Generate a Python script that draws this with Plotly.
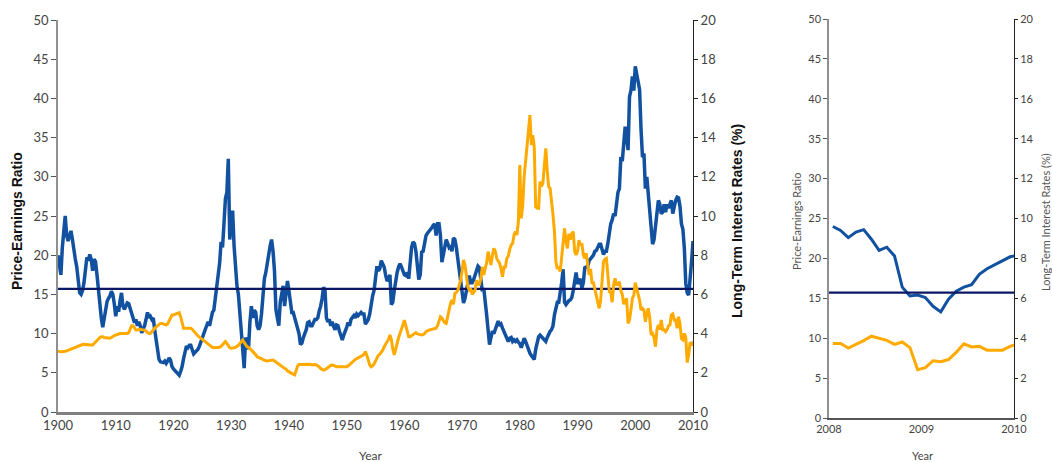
import plotly.graph_objects as go

# ---------------- DATA ----------------
# Quarterly Price-Earnings ratio, 1900.00 .. 2009.75 (Jan, Apr, Jul, Oct), then Jan 2010
pe_start_year = 1900
pe_values = [
    20.0, 18.8, 17.5, 21.0,   # 1900
    23.5, 25.0, 22.5, 21.8,   # 1901
    22.5, 23.1, 22.0, 20.4,   # 1902
    19.5, 18.5, 16.5, 15.2,   # 1903
    15.0, 15.5, 16.5, 18.0,   # 1904
    19.7, 19.3, 20.1, 19.5,   # 1905
    18.0, 19.5, 19.2, 17.5,   # 1906
    15.5, 13.5, 12.0, 10.8,   # 1907
    12.0, 13.0, 14.1, 14.5,   # 1908
    14.8, 15.4, 15.0, 13.8,   # 1909
    12.2, 13.5, 12.8, 14.2,   # 1910
    15.2, 13.5, 13.1, 13.5,   # 1911
    13.9, 13.8, 13.2, 12.5,   # 1912
    11.8, 11.4, 11.8, 11.0,   # 1913
    11.5, 11.0, 10.1, 10.5,   # 1914
    11.0, 11.8, 12.7, 12.0,   # 1915
    12.2, 11.8, 12.0, 10.5,   # 1916
    9.0, 7.8, 6.7, 6.4,       # 1917
    6.3, 6.3, 6.5, 6.2,       # 1918
    6.5, 6.9, 6.6, 5.8,       # 1919
    5.5, 5.3, 5.0, 4.8,       # 1920
    4.7, 5.2, 5.8, 6.8,       # 1921
    7.5, 8.4, 8.2, 8.5,       # 1922
    8.5, 7.8, 7.4, 7.6,       # 1923
    7.8, 8.0, 8.4, 9.0,       # 1924
    9.5, 10.0, 10.5, 11.0,    # 1925
    11.5, 11.0, 12.0, 12.7,   # 1926
    13.0, 14.5, 16.5, 17.8,   # 1927
    19.0, 21.7, 21.0, 24.0,   # 1928
    27.2, 28.0, 32.3, 22.0,   # 1929
    23.5, 25.7, 21.2, 18.5,   # 1930
    16.1, 15.0, 12.7, 10.5,   # 1931
    8.0, 5.6, 9.5, 8.5,       # 1932
    8.0, 11.5, 13.5, 12.0,    # 1933
    13.0, 12.7, 11.0, 10.5,   # 1934
    11.0, 12.5, 15.0, 17.0,   # 1935
    17.8, 19.0, 20.5, 21.2,   # 1936
    22.0, 20.5, 18.0, 13.1,   # 1937
    12.0, 11.0, 14.0, 15.2,   # 1938
    16.1, 13.5, 15.5, 16.7,   # 1939
    15.5, 13.5, 12.7, 12.7,   # 1940
    12.0, 11.0, 10.5, 10.0,   # 1941
    8.6, 8.8, 9.5, 10.0,      # 1942
    10.5, 11.4, 11.5, 11.0,   # 1943
    11.0, 11.4, 11.8, 11.8,   # 1944
    12.0, 12.9, 13.5, 14.5,   # 1945
    15.9, 15.5, 12.0, 11.5,   # 1946
    11.8, 11.0, 11.5, 10.9,   # 1947
    10.5, 11.1, 11.0, 10.3,   # 1948
    9.8, 9.2, 9.8, 10.5,      # 1949
    10.8, 11.4, 11.0, 11.8,   # 1950
    12.0, 12.3, 12.0, 12.5,   # 1951
    12.3, 12.5, 12.7, 12.5,   # 1952
    12.5, 11.2, 11.5, 11.8,   # 1953
    12.5, 14.0, 14.8, 15.5,   # 1954
    17.0, 18.6, 18.0, 18.3,   # 1955
    19.3, 18.8, 18.5, 17.5,   # 1956
    16.7, 17.0, 17.5, 13.7,   # 1957
    14.0, 15.5, 17.0, 17.8,   # 1958
    18.5, 18.9, 18.5, 18.0,   # 1959
    17.5, 17.4, 17.8, 17.0,   # 1960
    19.0, 21.0, 21.7, 21.5,   # 1961
    20.5, 18.0, 16.9, 17.5,   # 1962
    20.4, 20.5, 21.5, 22.5,   # 1963
    22.8, 23.0, 23.3, 23.5,   # 1964
    23.8, 24.0, 22.5, 24.0,   # 1965
    24.0, 22.5, 19.1, 20.0,   # 1966
    21.0, 22.0, 21.5, 21.0,   # 1967
    21.2, 20.5, 22.2, 22.0,   # 1968
    21.0, 19.5, 18.0, 17.0,   # 1969
    15.5, 13.9, 14.5, 15.5,   # 1970
    17.0, 17.4, 16.5, 16.5,   # 1971
    16.9, 17.5, 17.8, 18.6,   # 1972
    18.4, 17.0, 15.4, 15.8,   # 1973
    13.5, 12.4, 10.5, 8.6,    # 1974
    9.5, 10.3, 10.0, 10.5,    # 1975
    11.0, 11.6, 11.0, 11.2,   # 1976
    10.7, 10.2, 9.8, 9.5,     # 1977
    9.0, 9.4, 9.5, 9.0,       # 1978
    9.2, 9.0, 9.2, 8.9,       # 1979
    8.7, 8.2, 9.0, 9.4,       # 1980
    9.0, 8.5, 7.8, 7.5,       # 1981
    7.2, 7.0, 6.7, 8.0,       # 1982
    8.8, 9.6, 9.8, 9.5,       # 1983
    9.4, 9.2, 9.0, 9.5,       # 1984
    10.0, 10.3, 10.5, 11.0,   # 1985
    12.4, 13.5, 14.0, 14.0,   # 1986
    15.0, 16.5, 18.2, 14.0,   # 1987
    13.7, 14.0, 14.2, 14.3,   # 1988
    14.6, 15.5, 17.0, 17.8,   # 1989
    16.5, 16.5, 17.0, 15.8,   # 1990
    16.5, 18.4, 18.5, 18.5,   # 1991
    19.3, 19.5, 19.8, 20.0,   # 1992
    20.5, 20.6, 21.0, 21.4,   # 1993
    21.4, 20.5, 20.1, 20.5,   # 1994
    20.5, 21.5, 23.1, 24.0,   # 1995
    24.5, 25.3, 25.0, 27.0,   # 1996
    28.0, 28.5, 32.5, 32.0,   # 1997
    34.5, 36.4, 35.0, 33.4,   # 1998
    40.2, 41.0, 42.8, 41.0,   # 1999
    44.1, 43.0, 42.4, 41.1,   # 2000
    36.0, 32.5, 33.0, 28.5,   # 2001
    30.0, 27.6, 25.7, 22.5,   # 2002
    21.4, 22.0, 24.0, 24.8,   # 2003
    27.0, 26.5, 25.3, 25.5,   # 2004
    26.5, 25.5, 26.5, 26.0,   # 2005
    26.5, 27.0, 25.3, 26.5,   # 2006
    27.0, 27.4, 27.3, 26.2,   # 2007
    24.0, 23.3, 20.9, 16.4,   # 2008
    15.2, 14.9, 16.7, 19.2,   # 2009
    21.8,                     # 2010
]

# Quarterly long-term interest rates (%), same dates
rate_values = [
    3.10, 3.08, 3.08, 3.08,   # 1900
    3.08, 3.10, 3.12, 3.15,   # 1901
    3.18, 3.22, 3.26, 3.30,   # 1902
    3.33, 3.36, 3.38, 3.40,   # 1903
    3.42, 3.44, 3.45, 3.44,   # 1904
    3.42, 3.42, 3.42, 3.42,   # 1905
    3.42, 3.50, 3.58, 3.66,   # 1906
    3.74, 3.80, 3.84, 3.84,   # 1907
    3.80, 3.78, 3.76, 3.76,   # 1908
    3.76, 3.80, 3.86, 3.90,   # 1909
    3.93, 3.96, 3.98, 4.00,   # 1910
    4.00, 4.00, 4.01, 4.01,   # 1911
    4.01, 4.05, 4.20, 4.40,   # 1912
    4.40, 4.30, 4.18, 4.18,   # 1913
    4.20, 4.22, 4.20, 4.18,   # 1914
    4.18, 4.12, 4.05, 4.01,   # 1915
    4.01, 4.08, 4.18, 4.28,   # 1916
    4.35, 4.42, 4.50, 4.52,   # 1917
    4.52, 4.50, 4.46, 4.44,   # 1918
    4.50, 4.65, 4.80, 4.95,   # 1919
    4.95, 4.98, 5.02, 5.05,   # 1920
    5.07, 4.85, 4.55, 4.27,   # 1921
    4.27, 4.27, 4.27, 4.27,   # 1922
    4.27, 4.22, 4.12, 4.02,   # 1923
    3.93, 3.88, 3.82, 3.76,   # 1924
    3.70, 3.62, 3.59, 3.52,   # 1925
    3.45, 3.40, 3.33, 3.30,   # 1926
    3.28, 3.28, 3.28, 3.30,   # 1927
    3.30, 3.35, 3.45, 3.55,   # 1928
    3.59, 3.50, 3.40, 3.28,   # 1929
    3.25, 3.25, 3.28, 3.30,   # 1930
    3.33, 3.40, 3.50, 3.60,   # 1931
    3.67, 3.55, 3.40, 3.33,   # 1932
    3.30, 3.25, 3.16, 3.08,   # 1933
    3.02, 2.92, 2.82, 2.78,   # 1934
    2.74, 2.70, 2.66, 2.63,   # 1935
    2.61, 2.60, 2.62, 2.64,   # 1936
    2.65, 2.65, 2.60, 2.55,   # 1937
    2.50, 2.45, 2.40, 2.34,   # 1938
    2.30, 2.23, 2.18, 2.10,   # 1939
    2.04, 2.01, 1.97, 1.92,   # 1940
    1.89, 2.10, 2.35, 2.42,   # 1941
    2.42, 2.43, 2.45, 2.45,   # 1942
    2.45, 2.45, 2.45, 2.43,   # 1943
    2.40, 2.42, 2.42, 2.40,   # 1944
    2.36, 2.30, 2.22, 2.16,   # 1945
    2.14, 2.16, 2.20, 2.28,   # 1946
    2.32, 2.38, 2.40, 2.38,   # 1947
    2.34, 2.31, 2.31, 2.31,   # 1948
    2.31, 2.30, 2.31, 2.31,   # 1949
    2.31, 2.35, 2.42, 2.50,   # 1950
    2.58, 2.65, 2.68, 2.72,   # 1951
    2.75, 2.80, 2.84, 2.88,   # 1952
    2.95, 3.08, 2.90, 2.60,   # 1953
    2.40, 2.31, 2.35, 2.45,   # 1954
    2.60, 2.82, 2.90, 2.95,   # 1955
    3.05, 3.15, 3.33, 3.45,   # 1956
    3.55, 3.70, 3.93, 3.70,   # 1957
    3.20, 2.91, 3.20, 3.60,   # 1958
    3.80, 4.01, 4.20, 4.45,   # 1959
    4.69, 4.40, 4.10, 3.84,   # 1960
    3.84, 3.90, 3.95, 4.01,   # 1961
    4.05, 3.98, 3.95, 3.93,   # 1962
    3.93, 3.95, 4.00, 4.10,   # 1963
    4.15, 4.18, 4.20, 4.22,   # 1964
    4.22, 4.24, 4.27, 4.40,   # 1965
    4.60, 4.86, 4.80, 4.70,   # 1966
    4.55, 4.52, 4.90, 5.30,   # 1967
    5.55, 5.71, 5.50, 6.05,   # 1968
    6.10, 6.20, 6.50, 6.73,   # 1969
    7.20, 7.76, 7.50, 7.00,   # 1970
    6.40, 6.22, 6.30, 6.00,   # 1971
    6.10, 6.20, 6.73, 6.50,   # 1972
    6.50, 6.82, 7.40, 7.00,   # 1973
    7.33, 7.60, 8.18, 7.90,   # 1974
    7.50, 8.00, 8.35, 8.20,   # 1975
    7.84, 7.70, 7.60, 7.30,   # 1976
    6.90, 7.40, 7.40, 7.84,   # 1977
    7.95, 8.30, 8.52, 8.60,   # 1978
    9.03, 9.20, 9.03, 9.71,   # 1979
    12.60, 9.88, 10.50, 12.00,  # 1980
    12.77, 13.45, 14.20, 15.15, # 1981
    13.62, 14.13, 13.50, 10.47, # 1982
    10.40, 10.39, 11.75, 11.50, # 1983
    11.70, 12.80, 13.45, 12.30, # 1984
    11.50, 11.41, 10.50, 10.05, # 1985
    9.20, 7.67, 7.30, 7.40,   # 1986
    7.16, 8.00, 8.80, 9.37,   # 1987
    8.70, 8.35, 9.10, 8.80,   # 1988
    9.10, 9.20, 8.20, 8.01,   # 1989
    8.20, 8.77, 8.50, 8.60,   # 1990
    8.00, 7.84, 8.10, 7.50,   # 1991
    6.99, 7.30, 6.60, 6.60,   # 1992
    6.31, 6.00, 5.70, 5.29,   # 1993
    5.70, 7.00, 7.67, 7.80,   # 1994
    7.84, 7.00, 6.14, 6.10,   # 1995
    5.60, 6.50, 6.82, 6.50,   # 1996
    6.50, 6.65, 6.20, 6.00,   # 1997
    5.50, 5.65, 5.80, 4.52,   # 1998
    4.70, 5.20, 5.80, 5.97,   # 1999
    6.60, 6.31, 6.00, 5.70,   # 2000
    5.20, 5.29, 5.20, 4.60,   # 2001
    5.00, 5.29, 4.80, 3.93,   # 2002
    4.00, 3.80, 3.33, 4.20,   # 2003
    4.44, 4.20, 4.69, 4.20,   # 2004
    4.20, 4.10, 4.20, 4.40,   # 2005
    4.44, 4.95, 5.00, 4.70,   # 2006
    4.70, 4.27, 4.86, 4.50,   # 2007
    3.74, 3.68, 4.01, 3.81,   # 2008
    2.52, 2.93, 3.56, 3.39,   # 2009
    3.60,                     # 2010
]

# Monthly detail, Jan 2008 .. Jan 2010
zoom_start_year = 2008
zoom_pe = [24.0, 23.5, 22.6, 23.3, 23.6, 22.4, 21.0, 21.4, 20.3, 16.4, 15.3, 15.4,
           15.1, 14.0, 13.3, 14.9, 15.9, 16.4, 16.7, 18.0, 18.7, 19.2, 19.6, 20.2, 20.4]
zoom_rate = [3.74, 3.74, 3.51, 3.68, 3.88, 4.10, 4.01, 3.89, 3.69, 3.81, 3.53, 2.42,
             2.52, 2.87, 2.82, 2.93, 3.29, 3.72, 3.56, 3.59, 3.40, 3.39, 3.40, 3.59, 3.73]

pe_mean = 15.7

main_xticks = [1900, 1910, 1920, 1930, 1940, 1950, 1960, 1970, 1980, 1990, 2000, 2010]
zoom_xticks = [2008, 2009, 2010]
pe_ticks = [0, 5, 10, 15, 20, 25, 30, 35, 40, 45, 50]
rate_ticks = [0, 2, 4, 6, 8, 10, 12, 14, 16, 18, 20]

# ---------------- DERIVED ----------------
pe_years = [pe_start_year + i / 4 for i in range(len(pe_values))]
zoom_years = [zoom_start_year + (i + 0.5) / 12 for i in range(len(zoom_pe))]

W, H = 1052, 462
def fx(px):
    return px / W
def fy(py):
    return (H - py) / H

BLUE = "#11519F"
ORANGE = "#FFAA00"
NAVY = "#0B1762"
TICK_FONT = dict(family="Lato, DejaVu Sans, sans-serif", size=13, color="#444444")
ZTICK_FONT = dict(family="Lato, DejaVu Sans, sans-serif", size=11, color="#444444")

fig = go.Figure()

# Main panel
fig.add_trace(go.Scatter(x=pe_years, y=rate_values, mode="lines", xaxis="x", yaxis="y2",
                         line=dict(color=ORANGE, width=3), showlegend=False))
fig.add_trace(go.Scatter(x=pe_years, y=pe_values, mode="lines", xaxis="x", yaxis="y",
                         line=dict(color=BLUE, width=3.5), showlegend=False))
fig.add_trace(go.Scatter(x=[main_xticks[0], main_xticks[-1]], y=[pe_mean, pe_mean], mode="lines",
                         xaxis="x", yaxis="y", line=dict(color=NAVY, width=2.2), showlegend=False))

# Zoom panel
fig.add_trace(go.Scatter(x=zoom_years, y=zoom_rate, mode="lines", xaxis="x2", yaxis="y4",
                         line=dict(color=ORANGE, width=3), showlegend=False))
fig.add_trace(go.Scatter(x=zoom_years, y=zoom_pe, mode="lines", xaxis="x2", yaxis="y3",
                         line=dict(color=BLUE, width=3), showlegend=False))
fig.add_trace(go.Scatter(x=[zoom_xticks[0], zoom_xticks[-1]], y=[pe_mean, pe_mean], mode="lines",
                         xaxis="x2", yaxis="y3", line=dict(color=NAVY, width=2.2), showlegend=False))

main_x = [fx(58), fx(693)]
main_y = [fy(412), fy(20)]
zoom_x = [fx(829), fx(1014)]
zoom_y = [fy(418), fy(19)]

common = dict(automargin=False, showgrid=False, zeroline=False, fixedrange=True)

fig.update_layout(
    template="none",
    width=W, height=H,
    margin=dict(l=0, r=0, t=0, b=0, pad=0),
    paper_bgcolor="white", plot_bgcolor="white",
    xaxis=dict(domain=main_x, range=[1900, 2010], tickvals=main_xticks, ticks="",
               showline=True, linecolor="#808080", linewidth=2.5,
               tickfont=TICK_FONT, anchor="y", **common),
    yaxis=dict(domain=main_y, range=[0, 50], tickvals=pe_ticks, ticks="outside", ticklen=5,
               tickcolor="#555555", tickwidth=1, showline=True, linecolor="#909090", linewidth=1.5,
               tickfont=TICK_FONT, anchor="x", **common),
    yaxis2=dict(domain=main_y, range=[0, 20], tickvals=rate_ticks, ticks="outside", ticklen=4,
                tickcolor="#222222", tickwidth=1, showline=True, linecolor="#222222", linewidth=1,
                side="right", overlaying="y", anchor="x", tickfont=TICK_FONT, **common),
    yaxis5=dict(domain=main_y, range=[0, 20], tickvals=rate_ticks, ticks="inside", ticklen=4,
                tickcolor="#222222", tickwidth=1, showticklabels=False, showline=False,
                side="right", overlaying="y", anchor="x", **common),
    xaxis2=dict(domain=zoom_x, range=[2008, 2010], tickvals=zoom_xticks, ticks="",
                showline=True, linecolor="#555555", linewidth=1.5,
                tickfont=ZTICK_FONT, anchor="y3", **common),
    yaxis3=dict(domain=zoom_y, range=[0, 50], tickvals=pe_ticks, ticks="outside", ticklen=4,
                tickcolor="#555555", tickwidth=1, showline=True, linecolor="#909090", linewidth=1.5,
                tickfont=ZTICK_FONT, anchor="x2", **common),
    yaxis4=dict(domain=zoom_y, range=[0, 20], tickvals=rate_ticks, ticks="outside", ticklen=3,
                tickcolor="#222222", tickwidth=1, showline=True, linecolor="#222222", linewidth=1,
                side="right", overlaying="y3", anchor="x2", tickfont=ZTICK_FONT, **common),
    yaxis6=dict(domain=zoom_y, range=[0, 20], tickvals=rate_ticks, ticks="inside", ticklen=3,
                tickcolor="#222222", tickwidth=1, showticklabels=False, showline=False,
                side="right", overlaying="y3", anchor="x2", **common),
)

BOLD_TITLE = dict(family="Liberation Sans Narrow, Arial Narrow, Liberation Sans, sans-serif",
                  size=14, color="#111111")
LIGHT_TITLE = dict(family="Lato, DejaVu Sans, sans-serif", size=11, color="#555555")

annotations = [
    dict(text="<b>Price-Earnings Ratio</b>", x=fx(17), y=fy(221), textangle=-90, font=BOLD_TITLE),
    dict(text="<b>Long-Term Interest Rates (%)</b>", x=fx(737), y=fy(221), textangle=-90, font=BOLD_TITLE),
    dict(text="Year", x=fx(370), y=fy(455), font=dict(family="Lato, DejaVu Sans, sans-serif", size=12, color="#444444")),
    dict(text="Price-Earnings Ratio", x=fx(796), y=fy(222), textangle=-90, font=LIGHT_TITLE),
    dict(text="Long-Term Interest Rates (%)", x=fx(1045), y=fy(222), textangle=-90, font=LIGHT_TITLE),
    dict(text="Year", x=fx(922), y=fy(455), font=dict(family="Lato, DejaVu Sans, sans-serif", size=11, color="#444444")),
]
for a in annotations:
    a.update(xref="paper", yref="paper", showarrow=False, xanchor="center", yanchor="middle")
fig.update_layout(annotations=annotations)

fig.write_html(
    "out.html",
    config={"displayModeBar": False},
    post_script="document.body.style.margin='0';document.body.style.overflow='hidden';",
)
